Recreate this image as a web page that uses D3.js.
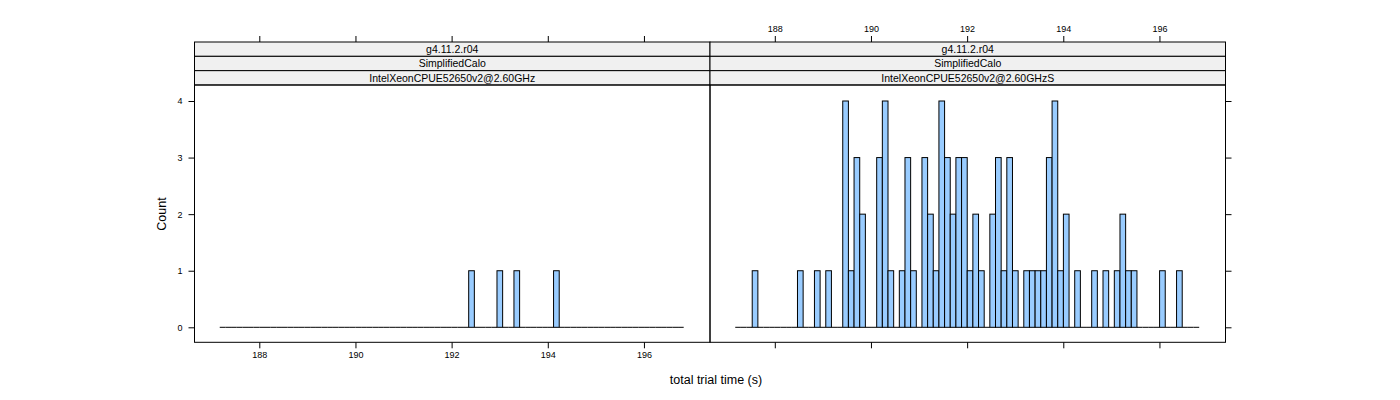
<!DOCTYPE html>
<html>
<head>
<meta charset="utf-8">
<script src="https://cdn.jsdelivr.net/npm/d3@7"></script>
<style>
  body { margin: 0; background: #fff; }
  svg { display: block; font-family: "Liberation Sans", Arial, Helvetica, sans-serif; }
</style>
</head>
<body>
<svg id="chart" width="1400" height="400"></svg>
<script>
// ---- data ----
const stripLevels1 = ["g4.11.2.r04", "g4.11.2.r04"];
const stripLevels2 = ["SimplifiedCalo", "SimplifiedCalo"];
const stripLevels3 = ["IntelXeonCPUE52650v2@2.60GHz", "IntelXeonCPUE52650v2@2.60GHzS"];
const breakStart = 187.177;
const breakWidth = 0.11768;
const countsLeft = [
  0,0,0,0,0,0,0,0,0,0,
  0,0,0,0,0,0,0,0,0,0,
  0,0,0,0,0,0,0,0,0,0,
  0,0,0,0,0,0,0,0,0,0,
  0,0,0,0,1,0,0,0,0,1,
  0,0,1,0,0,0,0,0,0,1,
  0,0,0,0,0,0,0,0,0,0,
  0,0,0,0,0,0,0,0,0,0,
  0,0
];
const countsRight = [
  0,0,0,1,0,0,0,0,0,0,
  0,1,0,0,1,0,1,0,0,4,
  1,3,2,0,0,3,4,1,0,1,
  3,1,0,3,2,1,4,3,2,3,
  3,1,2,1,0,2,3,1,3,1,
  0,1,1,1,1,3,4,1,2,0,
  1,0,0,1,0,1,0,1,2,1,
  1,0,0,0,0,1,0,0,1,0,
  0,0
];
const xTicks = [188, 190, 192, 194, 196];
const yTicks = [0, 1, 2, 3, 4];
const xTitle = "total trial time (s)";
const yTitle = "Count";

// ---- layout ----
const svg = d3.select("#chart");
const panelW = 515.5;
const panelX0 = [194.5, 710];
const stripTop = 42, stripH = 14.33;
const panelTop = stripTop + 3 * stripH;   // ~85
const panelBottom = 342.3;

const xDomain = [186.652, 197.374];
const y = d3.scaleLinear().domain([-0.265, 4.283]).range([panelBottom, panelTop]);

const panels = [
  { counts: countsLeft, strips: [stripLevels1[0], stripLevels2[0], stripLevels3[0]] },
  { counts: countsRight, strips: [stripLevels1[1], stripLevels2[1], stripLevels3[1]] }
];

panels.forEach((p, i) => {
  const x = d3.scaleLinear().domain(xDomain).range([panelX0[i], panelX0[i] + panelW]);
  const g = svg.append("g");

  const bins = p.counts.map((c, k) => ({ x0: breakStart + k * breakWidth, x1: breakStart + (k + 1) * breakWidth, c }));

  // zero-height bins drawn as baseline segments
  g.selectAll("line.zero").data(bins.filter(d => d.c === 0)).enter().append("line")
    .attr("class", "zero")
    .attr("x1", d => x(d.x0)).attr("x2", d => x(d.x1))
    .attr("y1", y(0)).attr("y2", y(0))
    .attr("stroke", "#000").attr("stroke-width", 1);

  // bars
  g.selectAll("rect.bar").data(bins.filter(d => d.c > 0)).enter().append("rect")
    .attr("class", "bar")
    .attr("x", d => x(d.x0))
    .attr("width", d => x(d.x1) - x(d.x0))
    .attr("y", d => y(d.c))
    .attr("height", d => y(0) - y(d.c))
    .attr("fill", "#99CCFF")
    .attr("stroke", "#000")
    .attr("stroke-width", 1);

  // strips
  p.strips.forEach((s, j) => {
    const sy = stripTop + j * stripH;
    g.append("rect")
      .attr("x", panelX0[i]).attr("y", sy)
      .attr("width", panelW).attr("height", stripH)
      .attr("fill", "#F0F0F0").attr("stroke", "#000").attr("stroke-width", 1);
    g.append("text")
      .attr("x", panelX0[i] + panelW / 2).attr("y", sy + stripH / 2)
      .attr("dy", "0.35em").attr("text-anchor", "middle")
      .attr("font-size", 10.5).attr("fill", "#000").text(s);
  });

  // panel border
  g.append("rect")
    .attr("x", panelX0[i]).attr("y", panelTop)
    .attr("width", panelW).attr("height", panelBottom - panelTop)
    .attr("fill", "none").attr("stroke", "#000").attr("stroke-width", 1);

  // x axes: left panel bottom labels, right panel top labels
  const bottomAxis = d3.axisBottom(x).tickValues(xTicks).tickSize(6).tickPadding(3)
    .tickFormat(i === 0 ? d3.format("d") : () => "");
  const topAxis = d3.axisTop(x).tickValues(xTicks).tickSize(6).tickPadding(4)
    .tickFormat(i === 1 ? d3.format("d") : () => "");
  const gb = g.append("g").attr("transform", `translate(0,${panelBottom})`).call(bottomAxis);
  const gt = g.append("g").attr("transform", `translate(0,${stripTop})`).call(topAxis);
  [gb, gt].forEach(a => {
    a.select(".domain").remove();
    a.selectAll("text").attr("font-size", 9).attr("font-family", "Liberation Sans, Arial, sans-serif").attr("fill", "#000");
    a.selectAll("line").attr("stroke", "#000");
  });

  // y axes
  if (i === 0) {
    const ya = g.append("g").attr("transform", `translate(${panelX0[0]},0)`)
      .call(d3.axisLeft(y).tickValues(yTicks).tickSize(6).tickPadding(6).tickFormat(d3.format("d")));
    ya.select(".domain").remove();
    ya.selectAll("text").attr("font-size", 9).attr("font-family", "Liberation Sans, Arial, sans-serif").attr("fill", "#000");
    ya.selectAll("line").attr("stroke", "#000");
  } else {
    const ya = g.append("g").attr("transform", `translate(${panelX0[1] + panelW},0)`)
      .call(d3.axisRight(y).tickValues(yTicks).tickSize(6).tickFormat(() => ""));
    ya.select(".domain").remove();
    ya.selectAll("line").attr("stroke", "#000");
  }
});

// axis titles
svg.append("text")
  .attr("x", 716).attr("y", 380).attr("dy", "0.35em")
  .attr("text-anchor", "middle").attr("font-size", 12.5).attr("fill", "#000")
  .text(xTitle);
svg.append("text")
  .attr("transform", "translate(162,214) rotate(-90)")
  .attr("dy", "0.35em")
  .attr("text-anchor", "middle").attr("font-size", 12.5).attr("fill", "#000")
  .text(yTitle);
</script>
</body>
</html>
